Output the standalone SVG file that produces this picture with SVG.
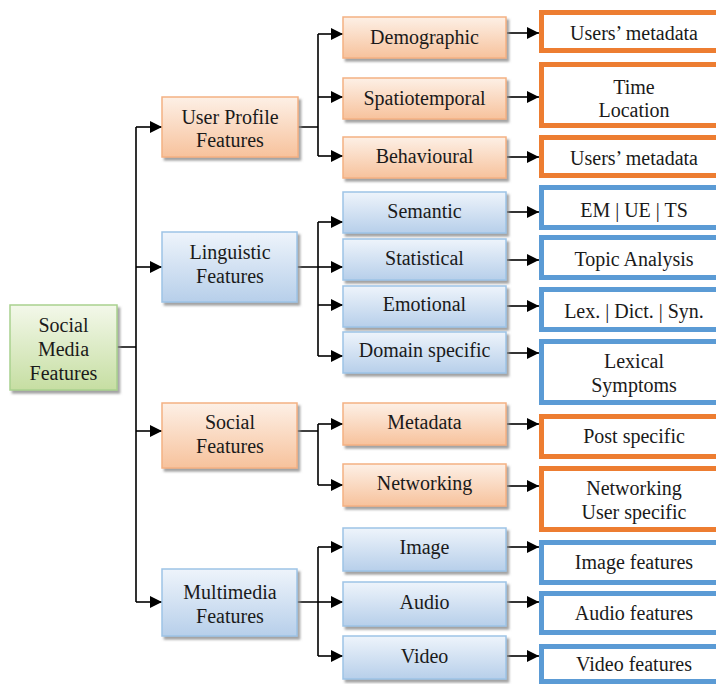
<svg xmlns="http://www.w3.org/2000/svg" width="716" height="684" viewBox="0 0 716 684">
<defs>
<linearGradient id="gO" x1="0" y1="0" x2="0" y2="1"><stop offset="0" stop-color="#fdf0e6"/><stop offset="1" stop-color="#f7c29c"/></linearGradient>
<linearGradient id="gB" x1="0" y1="0" x2="0" y2="1"><stop offset="0" stop-color="#eef4fb"/><stop offset="1" stop-color="#b7cfea"/></linearGradient>
<linearGradient id="gG" x1="0" y1="0" x2="0" y2="1"><stop offset="0" stop-color="#f3f8ea"/><stop offset="1" stop-color="#c6dea2"/></linearGradient>
<filter id="sh" x="-10%" y="-10%" width="130%" height="140%"><feDropShadow dx="2.5" dy="3" stdDeviation="1" flood-color="#8c8c8c" flood-opacity="0.8"/></filter>
<marker id="ar" markerUnits="userSpaceOnUse" markerWidth="13" markerHeight="12" refX="12" refY="6" orient="auto"><path d="M0,0 L12,6 L0,12 z" fill="#000"/></marker>
</defs>
<style>
text{font-family:"Liberation Serif","Times New Roman",serif;font-size:20px;fill:#1a1a1a;text-anchor:middle}
.o{fill:url(#gO);stroke:#f4b183;stroke-width:1.5;filter:url(#sh)}
.b{fill:url(#gB);stroke:#9dc3e6;stroke-width:1.5;filter:url(#sh)}
.g{fill:url(#gG);stroke:#a9d18e;stroke-width:1.5;filter:url(#sh)}
.ro{fill:#fff;stroke:#ed7d31;stroke-width:5}
.rb{fill:#fff;stroke:#5b9bd5;stroke-width:5}
.c{fill:none;stroke:#000;stroke-width:1.6}
.a{fill:none;stroke:#000;stroke-width:1.6;marker-end:url(#ar)}
</style>
<rect width="716" height="684" fill="#fff"/>

<g id="connectors">
<path class="c" d="M117,347 H136 M136,127 V602"/>
<path class="a" d="M136,127 H162"/>
<path class="a" d="M136,267 H162"/>
<path class="a" d="M136,431 H162"/>
<path class="a" d="M136,602 H162"/>
<path class="c" d="M298,127 H318 M318,34 V156"/>
<path class="a" d="M318,34 H343"/>
<path class="a" d="M318,97 H343"/>
<path class="a" d="M318,156 H343"/>
<path class="c" d="M297,267 H318 M318,222 V356"/>
<path class="a" d="M318,222 H343"/>
<path class="a" d="M318,267 H343"/>
<path class="a" d="M318,305 H343"/>
<path class="a" d="M318,356 H343"/>
<path class="c" d="M297,431 H318 M318,424 V485"/>
<path class="a" d="M318,424 H343"/>
<path class="a" d="M318,485 H343"/>
<path class="c" d="M297,602 H318 M318,547 V656"/>
<path class="a" d="M318,547 H343"/>
<path class="a" d="M318,602 H343"/>
<path class="a" d="M318,656 H343"/>
<path class="a" d="M507,33 H539"/>
<path class="a" d="M507,97 H539"/>
<path class="a" d="M507,157 H539"/>
<path class="a" d="M507,212 H539"/>
<path class="a" d="M507,260 H539"/>
<path class="a" d="M507,306 H539"/>
<path class="a" d="M507,353 H539"/>
<path class="a" d="M507,424 H539"/>
<path class="a" d="M507,486 H539"/>
<path class="a" d="M507,547 H539"/>
<path class="a" d="M507,602 H539"/>
<path class="a" d="M507,656 H539"/>
</g>

<g id="root"><rect class="g" x="10" y="305" width="107" height="85"/><text x="63.5" y="332">Social</text><text x="63.5" y="356">Media</text><text x="63.5" y="380">Features</text></g>

<g id="userprofile"><rect class="o" x="162" y="97" width="136" height="60"/><text x="230" y="124">User Profile</text><text x="230" y="147">Features</text></g>
<g id="linguistic"><rect class="b" x="162" y="232" width="135" height="70"/><text x="230" y="259">Linguistic</text><text x="230" y="283">Features</text></g>
<g id="social"><rect class="o" x="162" y="403" width="135" height="65"/><text x="230" y="429">Social</text><text x="230" y="453">Features</text></g>
<g id="multimedia"><rect class="b" x="162" y="569" width="135" height="67"/><text x="230" y="599">Multimedia</text><text x="230" y="623">Features</text></g>

<g id="demographic"><rect class="o" x="343" y="17" width="163" height="41"/><text x="424.5" y="44">Demographic</text></g>
<g id="spatiotemporal"><rect class="o" x="343" y="78" width="163" height="41"/><text x="424.5" y="105">Spatiotemporal</text></g>
<g id="behavioural"><rect class="o" x="343" y="137" width="163" height="41"/><text x="424.5" y="163">Behavioural</text></g>
<g id="semantic"><rect class="b" x="343" y="192" width="163" height="41"/><text x="424.5" y="218">Semantic</text></g>
<g id="statistical"><rect class="b" x="343" y="239" width="163" height="41"/><text x="424.5" y="265">Statistical</text></g>
<g id="emotional"><rect class="b" x="343" y="286" width="163" height="41"/><text x="424.5" y="311">Emotional</text></g>
<g id="domain"><rect class="b" x="343" y="332" width="163" height="41"/><text x="424.5" y="357">Domain specific</text></g>
<g id="metadata"><rect class="o" x="343" y="403" width="163" height="42"/><text x="424.5" y="429">Metadata</text></g>
<g id="networking"><rect class="o" x="343" y="464" width="163" height="42"/><text x="424.5" y="490">Networking</text></g>
<g id="image"><rect class="b" x="343" y="528" width="163" height="43"/><text x="424.5" y="554">Image</text></g>
<g id="audio"><rect class="b" x="343" y="582" width="163" height="44"/><text x="424.5" y="609">Audio</text></g>
<g id="video"><rect class="b" x="343" y="636" width="163" height="43"/><text x="424.5" y="663">Video</text></g>

<g id="r-usersmeta1"><rect class="ro" x="541.5" y="12.5" width="190" height="38"/><text x="634" y="40">Users’ metadata</text></g>
<g id="r-timeloc"><rect class="ro" x="541.5" y="64.5" width="190" height="61"/><text x="634" y="94">Time</text><text x="634" y="117">Location</text></g>
<g id="r-usersmeta2"><rect class="ro" x="541.5" y="137.5" width="190" height="38"/><text x="634" y="165">Users’ metadata</text></g>
<g id="r-em"><rect class="rb" x="541.5" y="187.5" width="190" height="40"/><text x="634" y="217">EM | UE | TS</text></g>
<g id="r-topic"><rect class="rb" x="541.5" y="237.5" width="190" height="40"/><text x="634" y="266">Topic Analysis</text></g>
<g id="r-lex"><rect class="rb" x="541.5" y="289.5" width="190" height="40"/><text x="634" y="318">Lex. | Dict. | Syn.</text></g>
<g id="r-lexsym"><rect class="rb" x="541.5" y="341.5" width="190" height="61"/><text x="634" y="368">Lexical</text><text x="634" y="392">Symptoms</text></g>
<g id="r-post"><rect class="ro" x="541.5" y="416.5" width="190" height="40"/><text x="634" y="443">Post specific</text></g>
<g id="r-netuser"><rect class="ro" x="541.5" y="468.5" width="190" height="61"/><text x="634" y="495">Networking</text><text x="634" y="519">User specific</text></g>
<g id="r-image"><rect class="rb" x="541.5" y="542.5" width="190" height="40"/><text x="634" y="569">Image features</text></g>
<g id="r-audio"><rect class="rb" x="541.5" y="593.5" width="190" height="39"/><text x="634" y="620">Audio features</text></g>
<g id="r-video"><rect class="rb" x="541.5" y="646.5" width="190" height="35"/><text x="634" y="671">Video features</text></g>
</svg>
